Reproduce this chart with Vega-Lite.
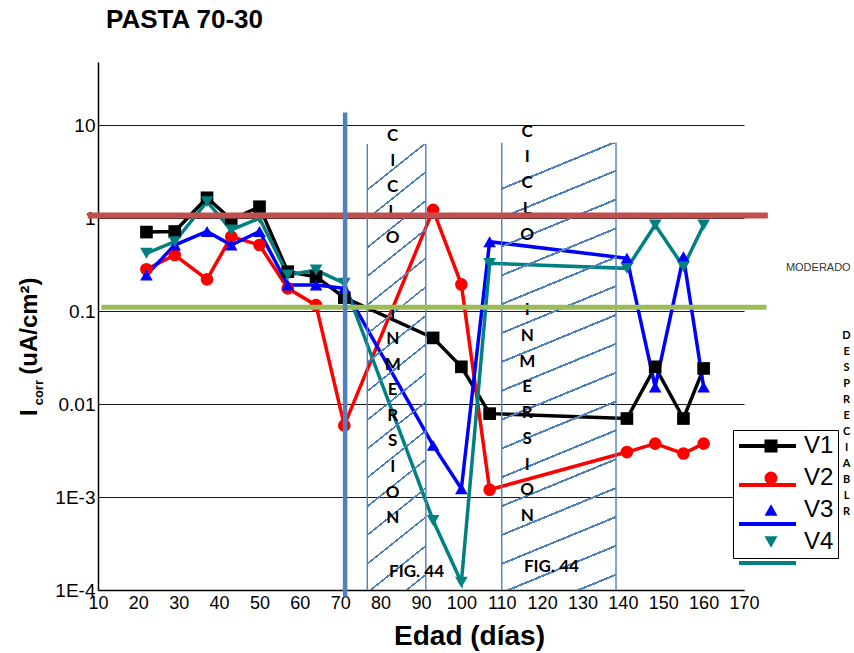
{
  "$schema": "https://vega.github.io/schema/vega-lite/v6.json",
  "width": 646,
  "height": 528,
  "autosize": {"type": "none"},
  "padding": {"left": 98, "top": 62, "right": 110, "bottom": 63},
  "background": "white",
  "config": {"view": {"stroke": null}},
  "title": {"text": "PASTA 70-30", "anchor": "start", "frame": "group", "font": "Liberation Sans", "fontSize": 26, "fontWeight": "bold", "color": "black", "dx": 8, "offset": 8, "baseline": "alphabetic"},
  "resolve": {"legend": {"color": "independent", "shape": "independent"}},
  "datasets": {
    "series": [
      {"serie": "V1", "dia": 22, "icorr": 0.71}, {"serie": "V1", "dia": 29, "icorr": 0.72}, {"serie": "V1", "dia": 37, "icorr": 1.66}, {"serie": "V1", "dia": 43, "icorr": 0.97}, {"serie": "V1", "dia": 50, "icorr": 1.33}, {"serie": "V1", "dia": 57, "icorr": 0.266}, {"serie": "V1", "dia": 64, "icorr": 0.235}, {"serie": "V1", "dia": 71, "icorr": 0.14}, {"serie": "V1", "dia": 93, "icorr": 0.0516}, {"serie": "V1", "dia": 100, "icorr": 0.0252}, {"serie": "V1", "dia": 107, "icorr": 0.0079}, {"serie": "V1", "dia": 141, "icorr": 0.007}, {"serie": "V1", "dia": 148, "icorr": 0.0252}, {"serie": "V1", "dia": 155, "icorr": 0.007}, {"serie": "V1", "dia": 160, "icorr": 0.0242},
      {"serie": "V2", "dia": 22, "icorr": 0.282}, {"serie": "V2", "dia": 29, "icorr": 0.402}, {"serie": "V2", "dia": 37, "icorr": 0.22}, {"serie": "V2", "dia": 43, "icorr": 0.634}, {"serie": "V2", "dia": 50, "icorr": 0.515}, {"serie": "V2", "dia": 57, "icorr": 0.176}, {"serie": "V2", "dia": 64, "icorr": 0.116}, {"serie": "V2", "dia": 71, "icorr": 0.0059}, {"serie": "V2", "dia": 93, "icorr": 1.23}, {"serie": "V2", "dia": 100, "icorr": 0.194}, {"serie": "V2", "dia": 107, "icorr": 0.0012}, {"serie": "V2", "dia": 141, "icorr": 0.00305}, {"serie": "V2", "dia": 148, "icorr": 0.00376}, {"serie": "V2", "dia": 155, "icorr": 0.00294}, {"serie": "V2", "dia": 160, "icorr": 0.00376},
      {"serie": "V3", "dia": 22, "icorr": 0.245}, {"serie": "V3", "dia": 29, "icorr": 0.515}, {"serie": "V3", "dia": 37, "icorr": 0.72}, {"serie": "V3", "dia": 43, "icorr": 0.515}, {"serie": "V3", "dia": 50, "icorr": 0.72}, {"serie": "V3", "dia": 57, "icorr": 0.191}, {"serie": "V3", "dia": 64, "icorr": 0.191}, {"serie": "V3", "dia": 71, "icorr": 0.176}, {"serie": "V3", "dia": 93, "icorr": 0.0036}, {"serie": "V3", "dia": 100, "icorr": 0.00123}, {"serie": "V3", "dia": 107, "icorr": 0.56}, {"serie": "V3", "dia": 141, "icorr": 0.371}, {"serie": "V3", "dia": 148, "icorr": 0.0153}, {"serie": "V3", "dia": 155, "icorr": 0.386}, {"serie": "V3", "dia": 160, "icorr": 0.0153},
      {"serie": "V4", "dia": 22, "icorr": 0.42}, {"serie": "V4", "dia": 29, "icorr": 0.56}, {"serie": "V4", "dia": 37, "icorr": 1.51}, {"serie": "V4", "dia": 43, "icorr": 0.748}, {"serie": "V4", "dia": 50, "icorr": 1.0}, {"serie": "V4", "dia": 57, "icorr": 0.245}, {"serie": "V4", "dia": 64, "icorr": 0.277}, {"serie": "V4", "dia": 71, "icorr": 0.2}, {"serie": "V4", "dia": 93, "icorr": 0.00056}, {"serie": "V4", "dia": 100, "icorr": 0.000121}, {"serie": "V4", "dia": 107, "icorr": 0.327}, {"serie": "V4", "dia": 141, "icorr": 0.289}, {"serie": "V4", "dia": 148, "icorr": 0.847}, {"serie": "V4", "dia": 155, "icorr": 0.301}, {"serie": "V4", "dia": 160, "icorr": 0.847}
    ],
    "zonas": [
      {"ini": 76.7, "fin": 91.2, "tope": 6.3},
      {"ini": 110.0, "fin": 138.3, "tope": 6.5}
    ],
    "uno": [{}]
  },
  "layer": [
    {
      "data": {"name": "series"},
      "mark": {"type": "line", "strokeWidth": 3.5},
      "encoding": {
        "x": {"field": "dia", "type": "quantitative", "scale": {"domain": [10, 170], "nice": false, "zero": false},
          "axis": {"values": [10, 20, 30, 40, 50, 60, 70, 80, 90, 100, 110, 120, 130, 140, 150, 160, 170], "title": "Edad (días)", "titleFont": "Liberation Sans", "titleFontSize": 28, "titleFontWeight": "bold", "titleColor": "black", "titleX": 371, "titleY": 54, "titleBaseline": "alphabetic", "titleAlign": "center", "labelFont": "Liberation Sans", "labelFontSize": 18, "labelColor": "black", "labelPadding": 4, "labelFlush": false, "labelOverlap": false, "ticks": false, "grid": false, "domainColor": "black", "domainWidth": 1.5}},
        "y": {"field": "icorr", "type": "quantitative", "scale": {"type": "log", "domain": [0.0001, 48], "nice": false},
          "axis": {"values": [0.0001, 0.001, 0.01, 0.1, 1, 10], "labelExpr": "datum.value < 0.005 ? '1E-' + format(-log(datum.value)/LN10, '.0f') : toString(datum.value)", "title": null, "grid": true, "gridColor": "#1a1a1a", "gridWidth": 1, "ticks": false, "domainColor": "black", "domainWidth": 1.5, "labelFont": "Liberation Sans", "labelFontSize": 19, "labelColor": "black", "labelPadding": 3, "labelOverlap": false}},
        "color": {"field": "serie", "type": "nominal", "scale": {"domain": ["V1", "V2", "V3", "V4"], "range": ["#000000", "#ff0000", "#0000ff", "#008080"]},
          "legend": {"title": null, "orient": "none", "legendX": 635, "legendY": 349.5, "padding": 4, "labelExpr": "''", "labelFontSize": 1, "labelOffset": 2, "symbolType": "stroke", "symbolSize": 3249, "symbolStrokeWidth": 4, "rowPadding": -8.3, "fillColor": "white"}}
      }
    },
    {
      "data": {"name": "series"},
      "mark": {"type": "point", "filled": true, "opacity": 1, "size": 160},
      "encoding": {
        "x": {"field": "dia", "type": "quantitative"},
        "y": {"field": "icorr", "type": "quantitative"},
        "color": {"field": "serie", "type": "nominal",
          "legend": {"title": null, "orient": "none", "legendX": 635, "legendY": 368, "padding": 4, "labelFont": "Liberation Sans", "labelFontSize": 24, "labelColor": "black", "labelOffset": 21, "symbolSize": 170, "symbolOffset": 22, "symbolStrokeWidth": 0, "symbolOpacity": 1, "rowPadding": 8, "strokeColor": "black"}},
        "shape": {"field": "serie", "type": "nominal", "scale": {"domain": ["V1", "V2", "V3", "V4"], "range": ["square", "circle", "triangle-up", "triangle-down"]},
          "legend": {"title": null, "orient": "none", "legendX": 635, "legendY": 368, "padding": 4, "labelFont": "Liberation Sans", "labelFontSize": 24, "labelColor": "black", "labelOffset": 21, "symbolSize": 170, "symbolOffset": 22, "symbolStrokeWidth": 0, "symbolOpacity": 1, "rowPadding": 8, "strokeColor": "black"}}
      }
    },
    {
      "data": {"name": "zonas"},
      "mark": {"type": "rect", "fill": {"gradient": "linear", "x1": 0, "y1": 0, "x2": 0.1155, "y2": 1.1, "stops": [
        {"offset": 0, "color": "rgba(255,255,255,0)"},
        {"offset": 0.0904, "color": "rgba(255,255,255,0)"}, {"offset": 0.0904, "color": "#4F81BD"}, {"offset": 0.0948, "color": "#4F81BD"}, {"offset": 0.0948, "color": "rgba(255,255,255,0)"},
        {"offset": 0.1484, "color": "rgba(255,255,255,0)"}, {"offset": 0.1484, "color": "#4F81BD"}, {"offset": 0.1528, "color": "#4F81BD"}, {"offset": 0.1528, "color": "rgba(255,255,255,0)"},
        {"offset": 0.2064, "color": "rgba(255,255,255,0)"}, {"offset": 0.2064, "color": "#4F81BD"}, {"offset": 0.2108, "color": "#4F81BD"}, {"offset": 0.2108, "color": "rgba(255,255,255,0)"},
        {"offset": 0.2644, "color": "rgba(255,255,255,0)"}, {"offset": 0.2644, "color": "#4F81BD"}, {"offset": 0.2688, "color": "#4F81BD"}, {"offset": 0.2688, "color": "rgba(255,255,255,0)"},
        {"offset": 0.3224, "color": "rgba(255,255,255,0)"}, {"offset": 0.3224, "color": "#4F81BD"}, {"offset": 0.3268, "color": "#4F81BD"}, {"offset": 0.3268, "color": "rgba(255,255,255,0)"},
        {"offset": 0.3804, "color": "rgba(255,255,255,0)"}, {"offset": 0.3804, "color": "#4F81BD"}, {"offset": 0.3848, "color": "#4F81BD"}, {"offset": 0.3848, "color": "rgba(255,255,255,0)"},
        {"offset": 0.4384, "color": "rgba(255,255,255,0)"}, {"offset": 0.4384, "color": "#4F81BD"}, {"offset": 0.4428, "color": "#4F81BD"}, {"offset": 0.4428, "color": "rgba(255,255,255,0)"},
        {"offset": 0.4964, "color": "rgba(255,255,255,0)"}, {"offset": 0.4964, "color": "#4F81BD"}, {"offset": 0.5008, "color": "#4F81BD"}, {"offset": 0.5008, "color": "rgba(255,255,255,0)"},
        {"offset": 0.5544, "color": "rgba(255,255,255,0)"}, {"offset": 0.5544, "color": "#4F81BD"}, {"offset": 0.5588, "color": "#4F81BD"}, {"offset": 0.5588, "color": "rgba(255,255,255,0)"},
        {"offset": 0.6124, "color": "rgba(255,255,255,0)"}, {"offset": 0.6124, "color": "#4F81BD"}, {"offset": 0.6168, "color": "#4F81BD"}, {"offset": 0.6168, "color": "rgba(255,255,255,0)"},
        {"offset": 0.6704, "color": "rgba(255,255,255,0)"}, {"offset": 0.6704, "color": "#4F81BD"}, {"offset": 0.6748, "color": "#4F81BD"}, {"offset": 0.6748, "color": "rgba(255,255,255,0)"},
        {"offset": 0.7284, "color": "rgba(255,255,255,0)"}, {"offset": 0.7284, "color": "#4F81BD"}, {"offset": 0.7328, "color": "#4F81BD"}, {"offset": 0.7328, "color": "rgba(255,255,255,0)"},
        {"offset": 0.7864, "color": "rgba(255,255,255,0)"}, {"offset": 0.7864, "color": "#4F81BD"}, {"offset": 0.7908, "color": "#4F81BD"}, {"offset": 0.7908, "color": "rgba(255,255,255,0)"},
        {"offset": 0.8444, "color": "rgba(255,255,255,0)"}, {"offset": 0.8444, "color": "#4F81BD"}, {"offset": 0.8488, "color": "#4F81BD"}, {"offset": 0.8488, "color": "rgba(255,255,255,0)"},
        {"offset": 0.9024, "color": "rgba(255,255,255,0)"}, {"offset": 0.9024, "color": "#4F81BD"}, {"offset": 0.9068, "color": "#4F81BD"}, {"offset": 0.9068, "color": "rgba(255,255,255,0)"},
        {"offset": 0.9604, "color": "rgba(255,255,255,0)"}, {"offset": 0.9604, "color": "#4F81BD"}, {"offset": 0.9648, "color": "#4F81BD"}, {"offset": 0.9648, "color": "rgba(255,255,255,0)"},
        {"offset": 1, "color": "rgba(255,255,255,0)"}
      ]}},
      "encoding": {
        "x": {"field": "ini", "type": "quantitative"},
        "x2": {"field": "fin"},
        "y": {"field": "tope", "type": "quantitative"},
        "y2": {"datum": 0.0001}
      }
    },
    {
      "data": {"name": "zonas"},
      "mark": {"type": "rule", "color": "#4F81BD", "strokeWidth": 1.4},
      "encoding": {"x": {"field": "ini", "type": "quantitative"}, "y": {"field": "tope", "type": "quantitative"}, "y2": {"datum": 0.0001}}
    },
    {
      "data": {"name": "zonas"},
      "mark": {"type": "rule", "color": "#4F81BD", "strokeWidth": 1.4},
      "encoding": {"x": {"field": "fin", "type": "quantitative"}, "y": {"field": "tope", "type": "quantitative"}, "y2": {"datum": 0.0001}}
    },
    {
      "data": {"name": "uno"},
      "mark": {"type": "text", "text": "C\nI\nC\nL\nO", "lineBreak": "\n", "lineHeight": 25.5, "font": "Lato", "fontSize": 17, "fontWeight": "bold", "fill": "black", "align": "center", "baseline": "middle"},
      "encoding": {"x": {"datum": 83.0, "type": "quantitative"}, "y": {"datum": 7.71, "type": "quantitative"}}
    },
    {
      "data": {"name": "uno"},
      "mark": {"type": "text", "text": "I\nN\nM\nE\nR\nS\nI\nO\nN", "lineBreak": "\n", "lineHeight": 25.6, "font": "Lato", "fontSize": 17, "fontWeight": "bold", "fill": "black", "align": "center", "baseline": "middle"},
      "encoding": {"x": {"datum": 83.0, "type": "quantitative"}, "y": {"datum": 0.0947, "type": "quantitative"}}
    },
    {
      "data": {"name": "uno"},
      "mark": {"type": "text", "text": "FIG. 44", "font": "Lato", "fontSize": 17, "fontWeight": "bold", "fill": "black", "align": "center", "baseline": "middle"},
      "encoding": {"x": {"datum": 88.9, "type": "quantitative"}, "y": {"datum": 0.000158, "type": "quantitative"}}
    },
    {
      "data": {"name": "uno"},
      "mark": {"type": "text", "text": "C\nI\nC\nL\nO", "lineBreak": "\n", "lineHeight": 25.8, "font": "Lato", "fontSize": 17, "fontWeight": "bold", "fill": "black", "align": "center", "baseline": "middle"},
      "encoding": {"x": {"datum": 116.3, "type": "quantitative"}, "y": {"datum": 8.575, "type": "quantitative"}}
    },
    {
      "data": {"name": "uno"},
      "mark": {"type": "text", "text": "I\nN\nM\nE\nR\nS\nI\nO\nN", "lineBreak": "\n", "lineHeight": 25.75, "font": "Lato", "fontSize": 17, "fontWeight": "bold", "fill": "black", "align": "center", "baseline": "middle"},
      "encoding": {"x": {"datum": 116.3, "type": "quantitative"}, "y": {"datum": 0.1028, "type": "quantitative"}}
    },
    {
      "data": {"name": "uno"},
      "mark": {"type": "text", "text": "FIG. 44", "font": "Lato", "fontSize": 17, "fontWeight": "bold", "fill": "black", "align": "center", "baseline": "middle"},
      "encoding": {"x": {"datum": 122.3, "type": "quantitative"}, "y": {"datum": 0.000175, "type": "quantitative"}}
    },
    {
      "data": {"name": "uno"},
      "mark": {"type": "text", "text": "MODERADO", "font": "Liberation Sans", "fontSize": 11, "fill": "#333333", "align": "center", "baseline": "middle"},
      "encoding": {"x": {"datum": 188.4, "type": "quantitative"}, "y": {"datum": 0.289, "type": "quantitative"}}
    },
    {
      "data": {"name": "uno"},
      "mark": {"type": "text", "text": "D\nE\nS\nP\nR\nE\nC\nI\nA\nB\nL\nR", "lineBreak": "\n", "lineHeight": 15.97, "font": "Lato", "fontSize": 11, "fontWeight": "bold", "fill": "black", "align": "center", "baseline": "middle"},
      "encoding": {"x": {"datum": 195.4, "type": "quantitative"}, "y": {"datum": 0.054, "type": "quantitative"}}
    },
    {
      "data": {"name": "uno"},
      "mark": {"type": "text", "text": "I", "angle": 270, "font": "Liberation Sans", "fontSize": 24, "fontWeight": "bold", "fill": "black", "align": "center", "baseline": "middle"},
      "encoding": {"x": {"datum": -6.8, "type": "quantitative"}, "y": {"datum": 0.00808, "type": "quantitative"}}
    },
    {
      "data": {"name": "uno"},
      "mark": {"type": "text", "text": "corr", "angle": 270, "font": "Liberation Sans", "fontSize": 13, "fontWeight": "bold", "fill": "black", "align": "center", "baseline": "middle"},
      "encoding": {"x": {"datum": -4.67, "type": "quantitative"}, "y": {"datum": 0.01327, "type": "quantitative"}}
    },
    {
      "data": {"name": "uno"},
      "mark": {"type": "text", "text": "(uA/cm²)", "angle": 270, "font": "Liberation Sans", "fontSize": 24, "fontWeight": "bold", "fill": "black", "align": "center", "baseline": "middle"},
      "encoding": {"x": {"datum": -6.8, "type": "quantitative"}, "y": {"datum": 0.0691, "type": "quantitative"}}
    },
    {
      "data": {"name": "uno"},
      "mark": {"type": "rule", "color": "#C0504D", "strokeWidth": 6},
      "encoding": {"x": {"datum": 7.45, "type": "quantitative"}, "x2": {"datum": 175.9}, "y": {"datum": 1.07, "type": "quantitative"}}
    },
    {
      "data": {"name": "uno"},
      "mark": {"type": "rule", "color": "#9BBB59", "strokeWidth": 5},
      "encoding": {"x": {"datum": 10.84, "type": "quantitative"}, "x2": {"datum": 175.6}, "y": {"datum": 0.11, "type": "quantitative"}}
    },
    {
      "data": {"name": "uno"},
      "mark": {"type": "rule", "color": "#4F81BD", "strokeWidth": 4.5},
      "encoding": {"x": {"datum": 71.2, "type": "quantitative"}, "y": {"datum": 13.7, "type": "quantitative"}, "y2": {"datum": 0.000085}}
    }
  ]
}
